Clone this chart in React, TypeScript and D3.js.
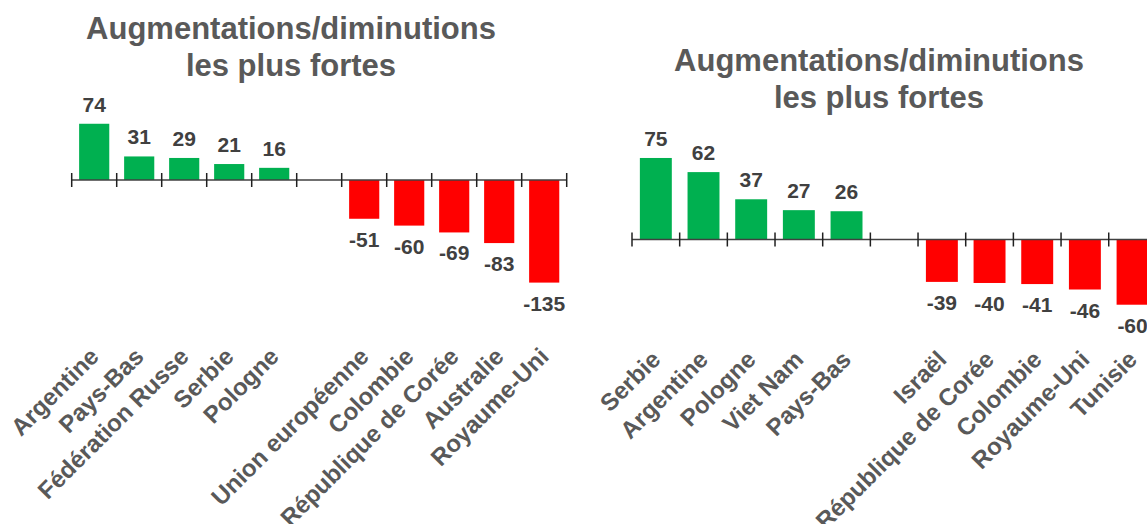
import React from "react";
import * as d3 from "d3";

const GAP = "__gap__";

const leftCategories = ["Argentine", "Pays-Bas", "Fédération Russe", "Serbie", "Pologne", GAP, "Union européenne", "Colombie", "République de Corée", "Australie", "Royaume-Uni"];
const leftValues = [74, 31, 29, 21, 16, null, -51, -60, -69, -83, -135];

const rightCategories = ["Serbie", "Argentine", "Pologne", "Viet Nam", "Pays-Bas", GAP, "Israël", "République de Corée", "Colombie", "Royaume-Uni", "Tunisie"];
const rightValues = [75, 62, 37, 27, 26, null, -39, -40, -41, -46, -60];

const titleLines = ["Augmentations/diminutions", "les plus fortes"];

const FONT = "'Liberation Sans', Arial, Helvetica, sans-serif";
const GREEN = "#00B050";
const RED = "#FF0000";

type PanelProps = {
  categories: string[];
  values: (number | null)[];
  x0: number;
  x1: number;
  axisY: number;
  pxPerUnit: number;
  titleX: number;
  titleY: number;
  labelY: number;
};

function Panel({ categories, values, x0, x1, axisY, pxPerUnit, titleX, titleY, labelY }: PanelProps) {
  const x = d3.scaleBand<string>().domain(categories).range([x0, x1]).paddingInner(0).paddingOuter(0);
  const y = d3.scaleLinear().domain([0, 100]).range([axisY, axisY - 100 * pxPerUnit]);
  const bw = x.bandwidth();
  const barW = bw * 0.67;
  const tickXs = [...categories.map((c) => x(c) as number), x1];
  return (
    <g>
      {titleLines.map((t, i) => (
        <text key={i} x={titleX} y={titleY + i * 37} textAnchor="middle" fontFamily={FONT} fontWeight="bold" fontSize={31} fill="#595959">
          {t}
        </text>
      ))}
      {categories.map((c, i) => {
        const v = values[i];
        if (v === null || v === undefined) return null;
        const cx = (x(c) as number) + bw / 2;
        const top = Math.min(y(v), y(0));
        const h = Math.abs(y(v) - y(0));
        return (
          <g key={c}>
            <rect x={cx - barW / 2} y={top} width={barW} height={h} fill={v >= 0 ? GREEN : RED} />
            <text
              x={cx}
              y={v >= 0 ? y(v) - 12 : y(v) + 28}
              textAnchor="middle"
              fontFamily={FONT}
              fontWeight="bold"
              fontSize={21}
              fill="#404040"
            >
              {v}
            </text>
          </g>
        );
      })}
      <line x1={x0} x2={x1} y1={axisY} y2={axisY} stroke="#404040" strokeWidth={1.5} />
      {tickXs.map((tx, i) => (
        <line key={i} x1={tx} x2={tx} y1={axisY - 7} y2={axisY + 7} stroke="#202020" strokeWidth={1.5} />
      ))}
      {categories.map((c) => {
        if (c === GAP) return null;
        const cx = (x(c) as number) + bw / 2 + 6;
        return (
          <text
            key={c}
            transform={`translate(${cx},${labelY}) rotate(-45)`}
            textAnchor="end"
            fontFamily={FONT}
            fontWeight="bold"
            fontSize={24}
            fill="#595959"
          >
            {c}
          </text>
        );
      })}
    </g>
  );
}

export default function App() {
  return (
    <div style={{ position: "absolute", left: 0, top: 0, width: 1147, height: 524, overflow: "hidden", background: "#fff" }}>
      <svg width={1147} height={524} style={{ display: "block" }}>
        <rect width={1147} height={524} fill="#fff" />
        <Panel
          categories={leftCategories}
          values={leftValues}
          x0={71.7}
          x1={566.7}
          axisY={180}
          pxPerUnit={0.76}
          titleX={291}
          titleY={39}
          labelY={358}
        />
        <Panel
          categories={rightCategories}
          values={rightValues}
          x0={632}
          x1={1156.4}
          axisY={239.5}
          pxPerUnit={1.087}
          titleX={879}
          titleY={71}
          labelY={361}
        />
      </svg>
    </div>
  );
}
